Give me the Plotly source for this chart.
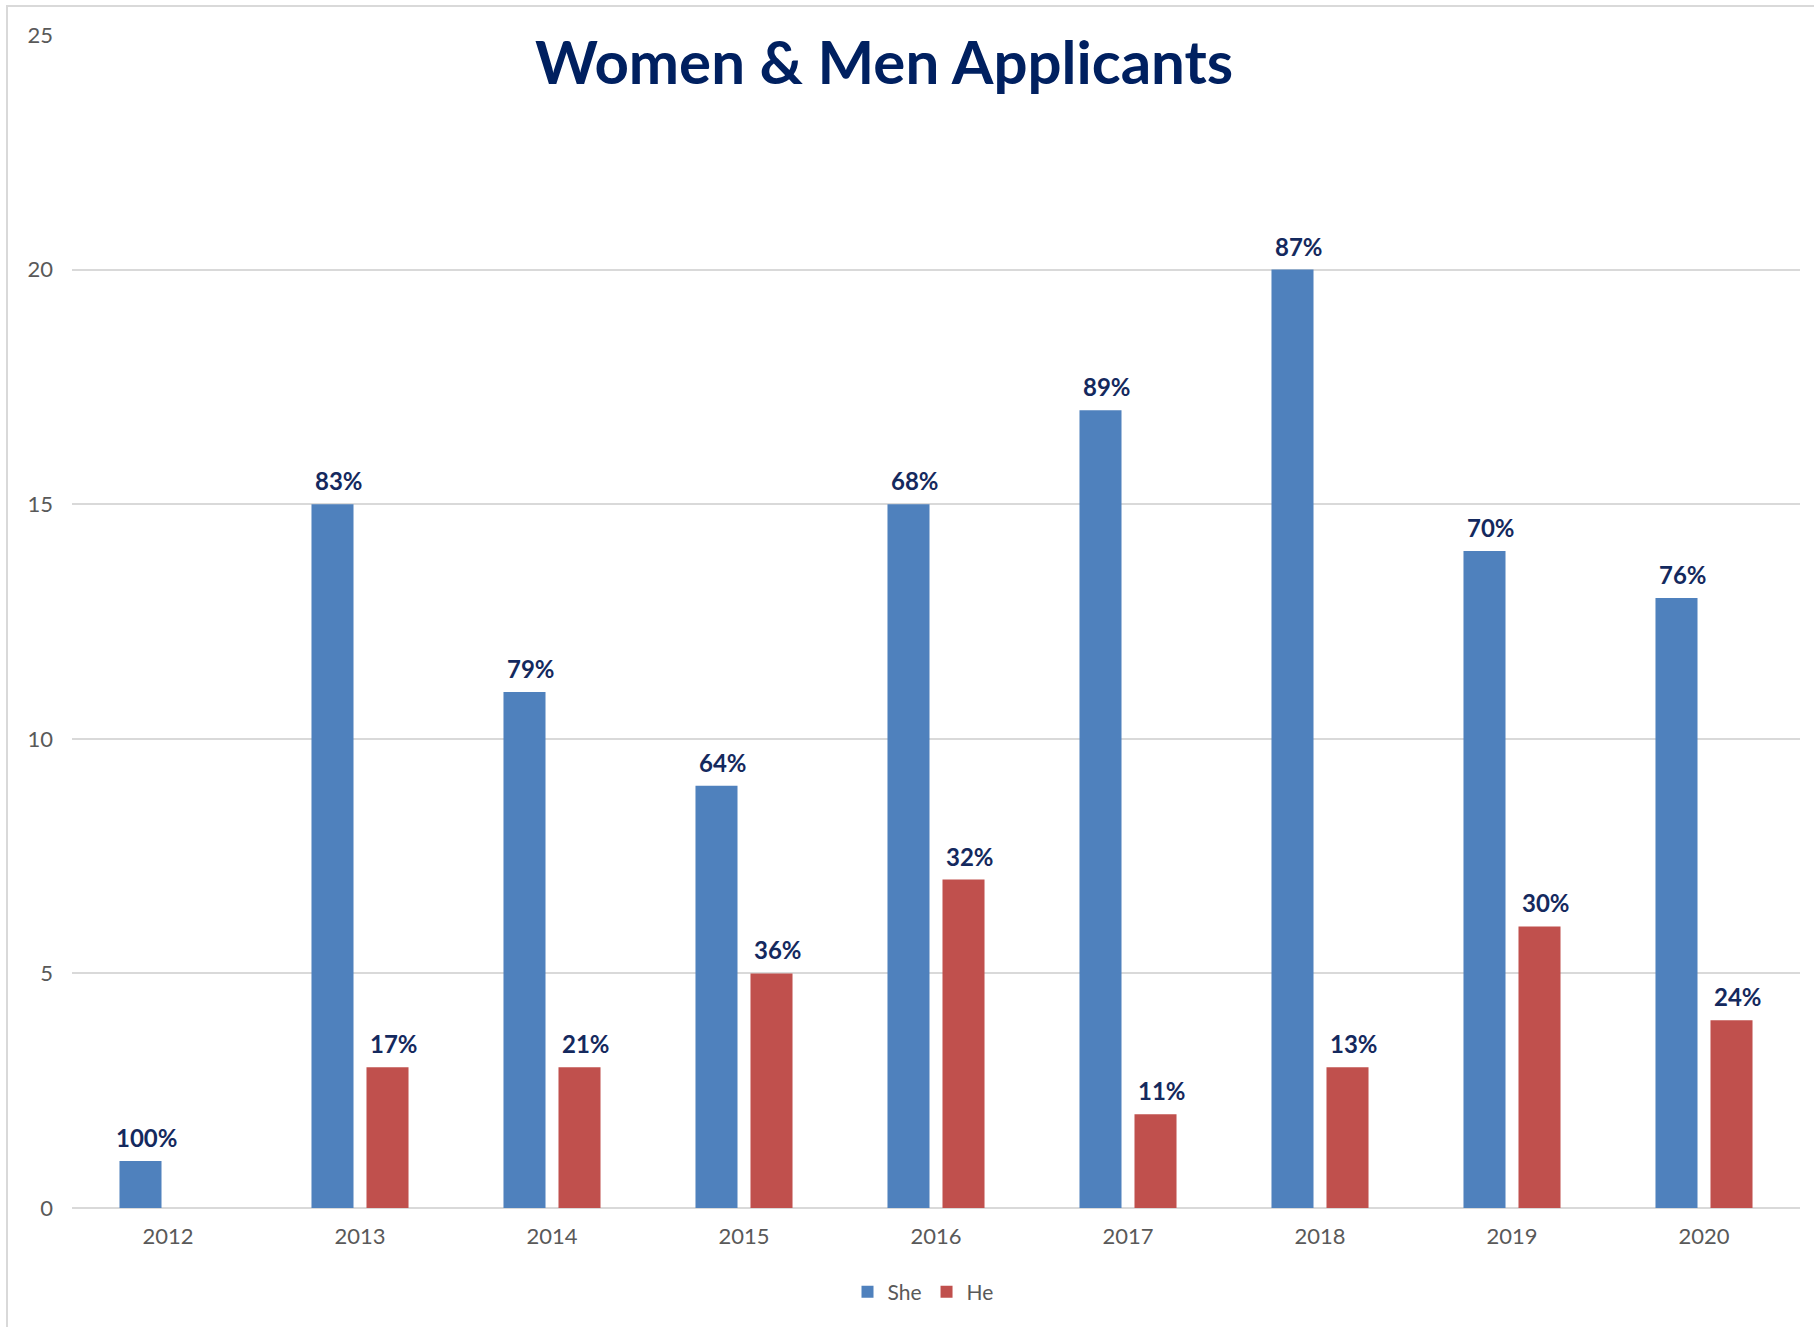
import plotly.graph_objects as go

years = ["2012", "2013", "2014", "2015", "2016", "2017", "2018", "2019", "2020"]
she_counts = [1, 15, 11, 9, 15, 17, 20, 14, 13]
he_counts = [None, 3, 3, 5, 7, 2, 3, 6, 4]
she_labels = ["100%", "83%", "79%", "64%", "68%", "89%", "87%", "70%", "76%"]
he_labels = ["", "17%", "21%", "36%", "32%", "11%", "13%", "30%", "24%"]
y_ticks = [0, 5, 10, 15, 20, 25]

BLUE = "#4F81BD"
RED = "#C0504D"
NAVY = "#002060"
LABEL_NAVY = "#14295E"
GRID = "#D9D9D9"
TICK = "#595959"
FONT = "Lato"

W, H = 1814, 1327
L, R, T, B = 72, 14, 35, 119
pw, ph = W - L - R, H - T - B
GROUP_OFFSET = 27.5  # px offset of each bar from category centre
LABEL_NUDGE = 6      # labels sit slightly right of bar centre in the reference


def px_x(p):
    return (p - L) / pw


def px_y(p):
    return (H - B - p) / ph


fig = go.Figure()
fig.add_trace(go.Bar(
    name="She", x=years, y=she_counts,
    marker=dict(color=BLUE, line=dict(width=0)),
))
fig.add_trace(go.Bar(
    name="He", x=years, y=he_counts,
    marker=dict(color=RED, line=dict(width=0)),
))

annotations = []
for series, labels, shift in ((she_counts, she_labels, -GROUP_OFFSET),
                              (he_counts, he_labels, GROUP_OFFSET)):
    for i, (v, lab) in enumerate(zip(series, labels)):
        if v is not None and lab:
            annotations.append(dict(
                x=i, y=v, xref="x", yref="y", text=f"<b>{lab}</b>", showarrow=False,
                xanchor="center", yanchor="bottom", xshift=shift + LABEL_NUDGE, yshift=7,
                font=dict(family=FONT, size=24, color=LABEL_NAVY),
            ))

annotations.append(dict(
    text="<b>Women &amp; Men Applicants</b>", xref="paper", yref="paper",
    x=px_x(884), y=px_y(61), xanchor="center", yanchor="middle", showarrow=False,
    font=dict(family=FONT, size=60, color=NAVY), bgcolor="white", borderpad=16,
))

fig.update_layout(
    width=W, height=H,
    margin=dict(l=L, r=R, t=T, b=B, pad=0),
    paper_bgcolor="white", plot_bgcolor="white",
    barmode="group", bargap=0.427, bargroupgap=0.236,
    font=dict(family=FONT, color=TICK),
    showlegend=True,
    legend=dict(
        orientation="h", x=px_x(923), xanchor="center", y=px_y(1292), yanchor="middle",
        font=dict(family=FONT, size=21, color=TICK), itemwidth=30,
        traceorder="normal", bgcolor="rgba(0,0,0,0)",
    ),
    xaxis=dict(
        type="category", categoryorder="array", categoryarray=years,
        range=[-0.5, len(years) - 0.5], autorange=False,
        showgrid=False, showline=False, zeroline=False,
        tickfont=dict(family=FONT, size=22, color=TICK), ticks="",
        ticklabelstandoff=13,
    ),
    yaxis=dict(
        range=[0, 25], autorange=False, tickvals=y_ticks, showgrid=True,
        gridcolor=GRID, gridwidth=2,
        zeroline=True, zerolinecolor=GRID, zerolinewidth=2, showline=False,
        tickfont=dict(family=FONT, size=22, color=TICK), ticks="",
        ticklabelstandoff=18,
    ),
    annotations=annotations,
    shapes=[
        dict(type="line", xref="paper", yref="paper", x0=px_x(7), x1=px_x(7),
             y0=px_y(6), y1=px_y(H + 5), line=dict(color=GRID, width=2)),
        dict(type="line", xref="paper", yref="paper", x0=px_x(6), x1=px_x(W + 5),
             y0=px_y(6), y1=px_y(6), line=dict(color=GRID, width=2)),
    ],
)

fig.write_html(
    "out.html",
    config={"displayModeBar": False},
    post_script="document.body.style.margin='0';document.body.style.overflow='hidden';",
)
